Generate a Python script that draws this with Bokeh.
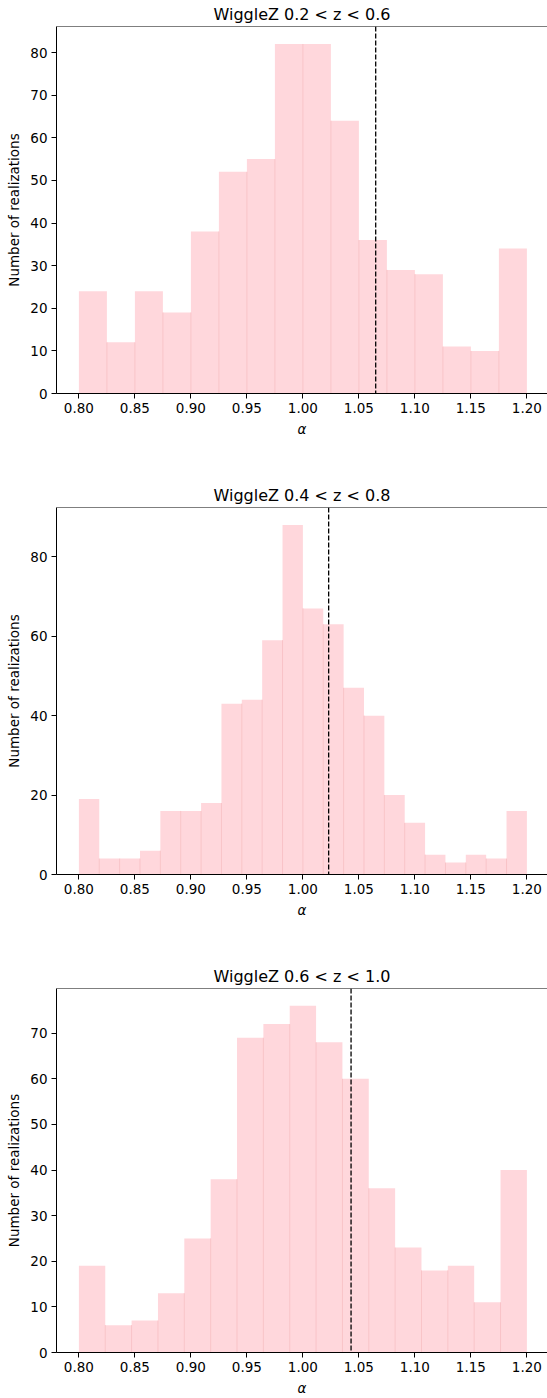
import numpy as np
from bokeh.plotting import figure
from bokeh.layouts import column
from bokeh.models import Span, FixedTicker, NumeralTickFormatter, ColumnDataSource
from bokeh.embed import file_html
from bokeh.resources import INLINE

# ---- data ----
titles = ["WiggleZ 0.2 < z < 0.6", "WiggleZ 0.4 < z < 0.8", "WiggleZ 0.6 < z < 1.0"]
alpha_min, alpha_max = 0.80, 1.20
counts_1 = [24, 12, 24, 19, 38, 52, 55, 82, 82, 64, 36, 29, 28, 11, 10, 34]
counts_2 = [19, 4, 4, 6, 16, 16, 18, 43, 44, 59, 88, 67, 63, 47, 40, 20, 13, 5, 3, 5, 4, 16]
counts_3 = [19, 6, 7, 13, 25, 38, 69, 72, 76, 68, 60, 36, 23, 18, 19, 11, 40]
vlines = [1.065, 1.023, 1.043]
yticks_1 = [0, 10, 20, 30, 40, 50, 60, 70, 80]
yticks_2 = [0, 20, 40, 60, 80]
yticks_3 = [0, 10, 20, 30, 40, 50, 60, 70]
xticks = [0.80, 0.85, 0.90, 0.95, 1.00, 1.05, 1.10, 1.15, 1.20]
xlabel = "α"
ylabel = "Number of realizations"

FONT = "DejaVu Sans"
FILL = "#ffd7dc"
EDGE = "#f9c3c7"


def make_panel(title, counts, vline, yticks, height, border_bottom):
    counts = np.asarray(counts, dtype=float)
    edges = np.linspace(alpha_min, alpha_max, len(counts) + 1)
    ytop = counts.max() * 1.05
    p = figure(width=547, height=height, output_backend="svg", toolbar_location=None,
               x_range=(0.78, 1.2184), y_range=(0, ytop),
               min_border_left=56, min_border_right=0, min_border_top=24,
               min_border_bottom=border_bottom, title=title)
    p.background_fill_color = "white"
    p.border_fill_color = "white"
    p.outline_line_color = None
    p.xgrid.visible = False
    p.ygrid.visible = False

    src = ColumnDataSource(dict(left=edges[:-1], right=edges[1:], top=counts,
                                bottom=np.zeros_like(counts)))
    p.quad(left="left", right="right", top="top", bottom="bottom", source=src,
           fill_color=FILL, line_color=None)
    # faint edges between adjacent bars
    p.segment(x0=edges[1:-1], x1=edges[1:-1], y0=np.zeros(len(counts) - 1),
              y1=np.minimum(counts[:-1], counts[1:]), line_color=EDGE, line_width=1)

    p.add_layout(Span(location=vline, dimension="height", line_color="black",
                      line_dash="5 2", line_width=1.3))
    # top spine
    p.add_layout(Span(location=ytop, dimension="width", line_color="black", line_width=1))

    p.title.text_font = FONT
    p.title.text_font_size = "16px"
    p.title.text_font_style = "normal"
    p.title.text_color = "black"
    p.title.align = "center"
    p.title.standoff = 5

    for ax in (p.xaxis[0], p.yaxis[0]):
        ax.axis_line_color = "black"
        ax.axis_line_width = 1
        ax.major_tick_line_color = "black"
        ax.major_tick_out = 5
        ax.major_tick_in = 0
        ax.minor_tick_line_color = None
        ax.major_label_text_font = FONT
        ax.major_label_text_font_size = "13.5px"
        ax.major_label_text_color = "black"
        ax.axis_label_text_font = FONT
        ax.axis_label_text_font_size = "13.5px"
        ax.axis_label_text_font_style = "normal"
        ax.axis_label_text_color = "black"
        ax.major_label_standoff = 4
        ax.axis_label_standoff = 5

    p.xaxis.ticker = FixedTicker(ticks=xticks)
    p.xaxis.formatter = NumeralTickFormatter(format="0.00")
    p.xaxis.axis_label = xlabel
    p.xaxis.axis_label_text_font_style = "italic"
    p.yaxis.ticker = FixedTicker(ticks=yticks)
    p.yaxis.axis_label = ylabel
    return p


p1 = make_panel(titles[0], counts_1, vlines[0], yticks_1, 481, 88)
p2 = make_panel(titles[1], counts_2, vlines[1], yticks_2, 481, 88)
p3 = make_panel(titles[2], counts_3, vlines[2], yticks_3, 436, 43)

layout = column(p1, p2, p3, spacing=0)
open("out.html", "w").write(file_html(layout, INLINE))
